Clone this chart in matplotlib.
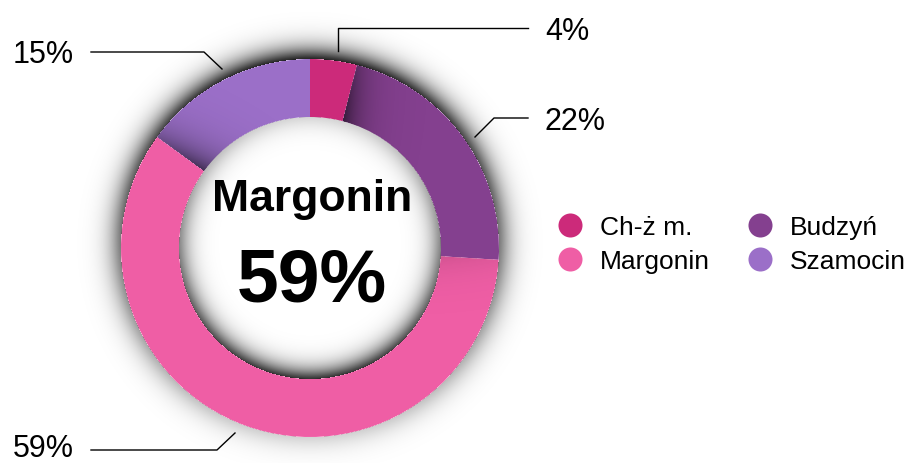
import numpy as np
import matplotlib
matplotlib.use("Agg")
from matplotlib import pyplot as plt

# data
labels = ["Ch-ż m.", "Budzyń", "Margonin", "Szamocin"]
values = [4, 22, 59, 15]
colors = ["#cc2a7a", "#84408f", "#ef5ea5", "#9b6fc8"]
pct_labels = ["4%", "22%", "59%", "15%"]

W, H = 911, 464
cx, cy = 310, 464 - 249
r_out, ring_w = 189, 58
r_in = r_out - ring_w

plt.rcParams['font.family'] = ['Liberation Sans', 'DejaVu Sans']

fig = plt.figure(figsize=(W / 100, H / 100), dpi=100)
ax = fig.add_axes([0, 0, 1, 1])

wedges, _ = ax.pie(values, colors=colors, startangle=90, counterclock=False,
                   radius=r_out, center=(cx, cy),
                   wedgeprops=dict(width=ring_w, linewidth=0))
ax.set_xlim(0, W)
ax.set_ylim(0, H)
ax.axis("off")

# shading overlay (outer shadow, inner shadow, segment overlap shadows)
yy, xx = np.mgrid[0:H, 0:W] + 0.5
dx, dy = xx - cx, yy - cy
r = np.hypot(dx, dy)
theta = np.arctan2(dy, dx)
alpha = np.zeros_like(r)

outer = r > r_out
d = r - r_out
g = 0.6 + 0.4 * np.sin(theta)
alpha[outer] = (0.85 * np.exp(-(d / 13.0) ** 1.3) * g)[outer]

inner = r < r_in
d = r_in - r
f = 0.6 - 0.4 * np.sin(theta)
alpha[inner] = (0.8 * np.exp(-(d / 12.0) ** 1.3) * f)[inner]

ring = (~outer) & (~inner)
phi = np.mod(90 - np.degrees(theta), 360)
bounds = np.cumsum([0] + values) * 3.6
strength = [0.0, 0.6, 0.12, 0.6]
for i in range(len(values)):
    seg = ring & (phi >= bounds[i]) & (phi < bounds[i + 1])
    arc = np.radians(phi - bounds[i]) * r
    radial = 0.5 + 0.5 * (r_out - r) / ring_w
    a = strength[i] * np.exp(-arc / 18.0) * radial
    alpha[seg] = np.maximum(alpha[seg], a[seg])

overlay = np.zeros((H, W, 4))
overlay[..., 3] = np.clip(alpha, 0, 1)
ax.imshow(overlay, extent=(0, W, 0, H), origin="lower", zorder=3,
          interpolation="bilinear")
ax.set_xlim(0, W)
ax.set_ylim(0, H)

# callouts
lw = 1.0
ax.plot([338, 338, 528], [H - 52, H - 29, H - 29], color="black", lw=lw, zorder=4)
ax.text(545, H - 40, pct_labels[0], fontsize=22, va="baseline", ha="left", zorder=5)
ax.plot([475, 494, 528], [H - 138, H - 119, H - 119], color="black", lw=lw, zorder=4)
ax.text(545, H - 130, pct_labels[1], fontsize=22, va="baseline", ha="left", zorder=5)
ax.plot([222, 204, 91], [H - 70, H - 53, H - 53], color="black", lw=lw, zorder=4)
ax.text(13, H - 63, pct_labels[3], fontsize=22, va="baseline", ha="left", zorder=5)
ax.plot([235, 217, 91], [H - 434, H - 451, H - 451], color="black", lw=lw, zorder=4)
ax.text(13, H - 457, pct_labels[2], fontsize=22, va="baseline", ha="left", zorder=5)

# center text
ax.text(312, H - 211, "Margonin", fontsize=32, fontweight="bold", ha="center",
        va="baseline", zorder=5)
ax.text(312, H - 302, "59%", fontsize=54, fontweight="bold", ha="center",
        va="baseline", zorder=5)

# legend
leg_pos = [(570, 226), (760, 226), (570, 260), (760, 260)]
for (lx, ly), i in zip(leg_pos, range(len(labels))):
    ax.scatter([lx], [H - ly], s=24 ** 2 * 0.52, color=colors[i], zorder=5, linewidths=0)
    ax.text(lx + 30, H - ly - 9, labels[i], fontsize=19, va="baseline", ha="left", zorder=5)

plt.savefig("out.png", dpi=100)
